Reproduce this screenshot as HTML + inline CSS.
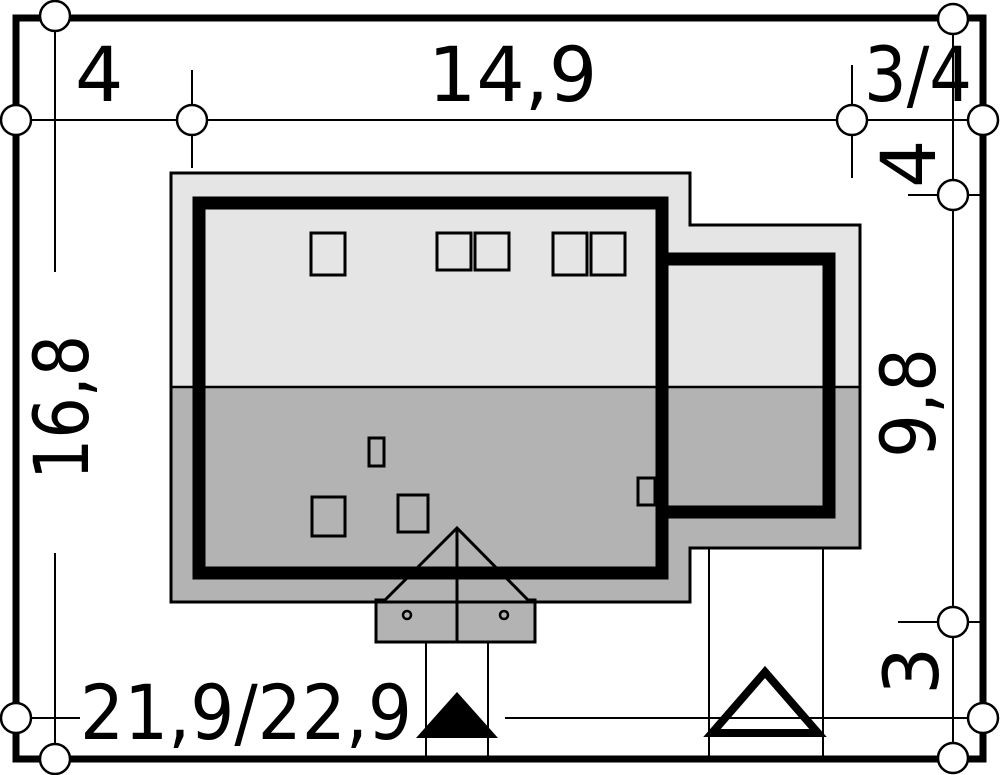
<!DOCTYPE html>
<html><head><meta charset="utf-8"><style>html,body{margin:0;padding:0;background:#fff}svg{display:block}</style></head>
<body>
<svg width="1000" height="775" viewBox="0 0 1000 775" xmlns="http://www.w3.org/2000/svg" font-family="'DejaVu Sans','Liberation Sans',sans-serif">
<polygon points="171,173 690,173 690,225 860,225 860,387 171,387" fill="#e5e5e5"/>
<polygon points="171,387 860,387 860,548 690,548 690,602 171,602" fill="#b3b3b3"/>
<polygon points="376,642 376,600 385,600 457,528 528,600 535,600 535,642" fill="#b3b3b3"/>
<polygon points="171,173 690,173 690,225 860,225 860,548 690,548 690,602 171,602" fill="none" stroke="#000" stroke-width="3"/>
<line x1="171" y1="387" x2="860" y2="387" stroke="#000" stroke-width="2.5"/>
<rect x="199" y="203" width="463" height="370" fill="none" stroke="#000" stroke-width="13"/>
<polyline points="662,259 829,259 829,512 662,512" fill="none" stroke="#000" stroke-width="13"/>
<g fill="none" stroke="#000" stroke-width="3">
<rect x="311" y="233" width="34" height="42"/>
<rect x="437" y="233" width="34" height="37"/>
<rect x="475" y="233" width="34" height="37"/>
<rect x="553" y="233" width="34" height="42"/>
<rect x="591" y="233" width="34" height="42"/>
<rect x="369" y="438" width="15" height="28"/>
<rect x="312" y="497" width="33" height="39"/>
<rect x="398" y="495" width="30" height="37"/>
<rect x="638" y="478" width="17" height="27"/>
</g>
<polygon points="376,642 376,600 385,600 457,528 528,600 535,600 535,642" fill="none" stroke="#000" stroke-width="3"/>
<line x1="457" y1="528" x2="457" y2="642" stroke="#000" stroke-width="3"/>
<circle cx="407" cy="615" r="4" fill="none" stroke="#000" stroke-width="2.5"/>
<circle cx="504" cy="615" r="4" fill="none" stroke="#000" stroke-width="2.5"/>
<g stroke="#000" stroke-width="2">
<line x1="16" y1="120" x2="983" y2="120"/>
<line x1="55" y1="18" x2="55" y2="272"/>
<line x1="55" y1="553" x2="55" y2="759"/>
<line x1="192" y1="70" x2="192" y2="168"/>
<line x1="852" y1="65" x2="852" y2="178"/>
<line x1="953" y1="18" x2="953" y2="759"/>
<line x1="908" y1="195" x2="983" y2="195"/>
<line x1="898" y1="622" x2="983" y2="622"/>
<line x1="505" y1="718" x2="983" y2="718"/>
<line x1="16" y1="718" x2="80" y2="718"/>
<line x1="426" y1="642" x2="426" y2="759"/>
<line x1="488" y1="642" x2="488" y2="759"/>
<line x1="709" y1="548" x2="709" y2="759"/>
<line x1="823" y1="548" x2="823" y2="759"/>
</g>
<rect x="16" y="18" width="967" height="741" fill="none" stroke="#000" stroke-width="7"/>
<g fill="#fff" stroke="#000" stroke-width="2.5">
<circle cx="55" cy="16" r="15"/>
<circle cx="16" cy="120" r="15"/>
<circle cx="192" cy="120" r="15"/>
<circle cx="852" cy="120" r="15"/>
<circle cx="983" cy="120" r="15"/>
<circle cx="953" cy="19" r="15"/>
<circle cx="953" cy="195" r="15"/>
<circle cx="953" cy="622" r="15"/>
<circle cx="983" cy="718" r="15"/>
<circle cx="953" cy="758" r="15"/>
<circle cx="16" cy="718" r="15"/>
<circle cx="55" cy="759" r="15"/>
</g>
<polygon points="416,738 457,692 498,738" fill="#000"/>
<polygon points="712,733 765,672 818,733" fill="none" stroke="#000" stroke-width="8"/>
<g fill="#000" font-size="76">
<text x="75" y="101">4</text>
<text x="428" y="101">14,9</text>
<text x="864" y="101" textLength="108" lengthAdjust="spacingAndGlyphs">3/4</text>
<text x="80" y="739" textLength="332" lengthAdjust="spacingAndGlyphs">21,9/22,9</text>
<text transform="translate(88,480) rotate(-90)" textLength="145" lengthAdjust="spacingAndGlyphs">16,8</text>
<text transform="translate(935,458) rotate(-90)" textLength="110" lengthAdjust="spacingAndGlyphs">9,8</text>
<text transform="translate(935,188) rotate(-90)">4</text>
<text transform="translate(938,695) rotate(-90)">3</text>
</g>
</svg>
</body></html>
